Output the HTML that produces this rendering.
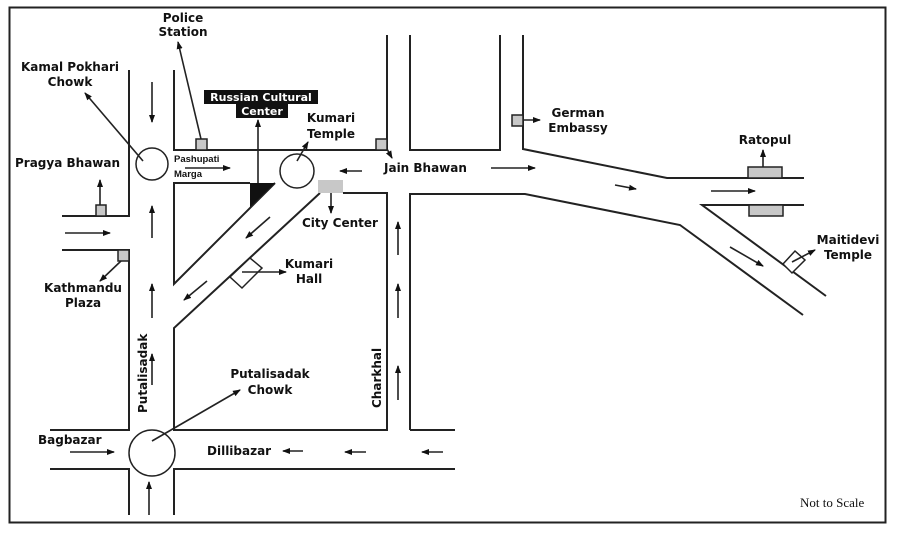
<!DOCTYPE html>
<html><head><meta charset="utf-8"><style>
html,body{margin:0;padding:0;background:#fff;}
svg{display:block;}
text{font-family:"DejaVu Sans","Liberation Sans",sans-serif;font-weight:bold;font-size:12px;fill:#111;}
</style></head><body>
<svg width="900" height="534" viewBox="0 0 900 534" xmlns="http://www.w3.org/2000/svg">
<defs>
<marker id="a" markerWidth="8" markerHeight="8" refX="7" refY="4" orient="auto" markerUnits="userSpaceOnUse">
<path d="M0,1 L8,4 L0,7 Z" fill="#111"/></marker>
</defs>
<rect x="9.5" y="7.5" width="876" height="515" fill="none" stroke="#222" stroke-width="2"/>
<g fill="none" stroke="#222" stroke-width="2">
<polyline points="129,70 129,216 62,216"/>
<polyline points="62,250 129,250 129,430 50,430"/>
<polyline points="50,469 129,469 129,515"/>
<polyline points="174,70 174,150 387,150 387,35"/>
<polyline points="250,183 174,183 174,284 275,183"/>
<polyline points="320,193 174,328 174,430 387,430 387,193 343,193"/>
<polyline points="410,35 410,150 500,150 500,35"/>
<polyline points="523,35 523,149 667,178 804,178"/>
<polyline points="410,430 410,194 525,194 680,225 803,315"/>
<polyline points="804,205 702,205 826,296"/>
<polyline points="410,430 455,430"/>
<polyline points="174,515 174,469 455,469"/>
<circle cx="152" cy="164" r="16" stroke-width="1.5"/>
<circle cx="297" cy="171" r="17" stroke-width="1.5"/>
<circle cx="152" cy="453" r="23" stroke-width="1.5"/>
</g>
<polygon points="250,183 275,183 250,207" fill="#111"/>
<g fill="#c8c8c8" stroke="#222" stroke-width="1.5">
<rect x="196" y="139" width="11" height="11"/>
<rect x="376" y="139" width="11" height="11"/>
<rect x="96" y="205" width="10" height="11"/>
<rect x="118" y="250" width="11" height="11"/>
<rect x="512" y="115" width="11" height="11"/>
<rect x="748" y="167" width="34" height="11"/>
<rect x="749" y="205" width="34" height="11"/>
</g>
<rect x="318" y="180" width="25" height="13" fill="#c8c8c8"/>
<polygon points="230,277 250,258 262,268 242,288" fill="#fff" stroke="#222" stroke-width="1.5"/>
<polygon points="783,264 795,251 805,260 792,273" fill="#fff" stroke="#222" stroke-width="1.5"/>
<g stroke="#222" stroke-width="1.6" fill="none" marker-end="url(#a)">
<line x1="152" y1="82" x2="152" y2="122"/>
<line x1="152" y1="238" x2="152" y2="206"/>
<line x1="65" y1="233" x2="110" y2="233"/>
<line x1="100" y1="205" x2="100" y2="180"/>
<line x1="121" y1="261" x2="100" y2="281"/>
<line x1="152" y1="318" x2="152" y2="284"/>
<line x1="152" y1="385" x2="152" y2="354"/>
<line x1="149" y1="515" x2="149" y2="482"/>
<line x1="70" y1="452" x2="114" y2="452"/>
<line x1="303" y1="451" x2="283" y2="451"/>
<line x1="366" y1="452" x2="345" y2="452"/>
<line x1="443" y1="452" x2="422" y2="452"/>
<line x1="398" y1="255" x2="398" y2="222"/>
<line x1="398" y1="318" x2="398" y2="284"/>
<line x1="398" y1="400" x2="398" y2="366"/>
<line x1="201" y1="139" x2="178" y2="42"/>
<line x1="143" y1="161" x2="85" y2="93"/>
<line x1="258" y1="183" x2="258" y2="120"/>
<line x1="297" y1="161" x2="308" y2="142"/>
<line x1="185" y1="168" x2="230" y2="168"/>
<line x1="362" y1="171" x2="340" y2="171"/>
<line x1="387" y1="149" x2="392" y2="158"/>
<line x1="331" y1="193" x2="331" y2="213"/>
<line x1="270" y1="217" x2="246" y2="238"/>
<line x1="207" y1="281" x2="184" y2="300"/>
<line x1="242" y1="272" x2="286" y2="272"/>
<line x1="152" y1="441" x2="240" y2="390"/>
<line x1="523" y1="120" x2="540" y2="120"/>
<line x1="491" y1="168" x2="535" y2="168"/>
<line x1="615" y1="185" x2="636" y2="189"/>
<line x1="711" y1="191" x2="755" y2="191"/>
<line x1="730" y1="247" x2="763" y2="266"/>
<line x1="763" y1="167" x2="763" y2="150"/>
<line x1="792" y1="262" x2="815" y2="250"/>
</g>
<rect x="204" y="90" width="114" height="14" fill="#111"/>
<rect x="236" y="104" width="52" height="14" fill="#111"/>
<text x="261" y="101" text-anchor="middle" style="fill:#fff;font-size:11px">Russian Cultural</text>
<text x="262" y="115" text-anchor="middle" style="fill:#fff;font-size:11px">Center</text>
<text x="183" y="22" text-anchor="middle">Police</text>
<text x="183" y="36" text-anchor="middle">Station</text>
<text x="70" y="71" text-anchor="middle">Kamal Pokhari</text>
<text x="70" y="86" text-anchor="middle">Chowk</text>
<text x="331" y="122" text-anchor="middle">Kumari</text>
<text x="331" y="138" text-anchor="middle">Temple</text>
<text x="15" y="167">Pragya Bhawan</text>
<text x="174" y="162" style="font-family:'Liberation Sans',sans-serif;font-size:9.5px">Pashupati</text>
<text x="174" y="177" style="font-family:'Liberation Sans',sans-serif;font-size:9.5px">Marga</text>
<text x="384" y="172">Jain Bhawan</text>
<text x="578" y="117" text-anchor="middle">German</text>
<text x="578" y="132" text-anchor="middle">Embassy</text>
<text x="765" y="144" text-anchor="middle">Ratopul</text>
<text x="848" y="244" text-anchor="middle">Maitidevi</text>
<text x="848" y="259" text-anchor="middle">Temple</text>
<text x="302" y="227">City Center</text>
<text x="309" y="268" text-anchor="middle">Kumari</text>
<text x="309" y="283" text-anchor="middle">Hall</text>
<text x="83" y="292" text-anchor="middle">Kathmandu</text>
<text x="83" y="307" text-anchor="middle">Plaza</text>
<text x="270" y="378" text-anchor="middle">Putalisadak</text>
<text x="270" y="394" text-anchor="middle">Chowk</text>
<text x="38" y="444">Bagbazar</text>
<text x="207" y="455">Dillibazar</text>
<text transform="translate(147,413) rotate(-90)">Putalisadak</text>
<text transform="translate(381,408) rotate(-90)">Charkhal</text>
<text x="800" y="507" style="font-family:'Liberation Serif',serif;font-weight:normal;font-size:13px">Not to Scale</text>
</svg>
</body></html>
